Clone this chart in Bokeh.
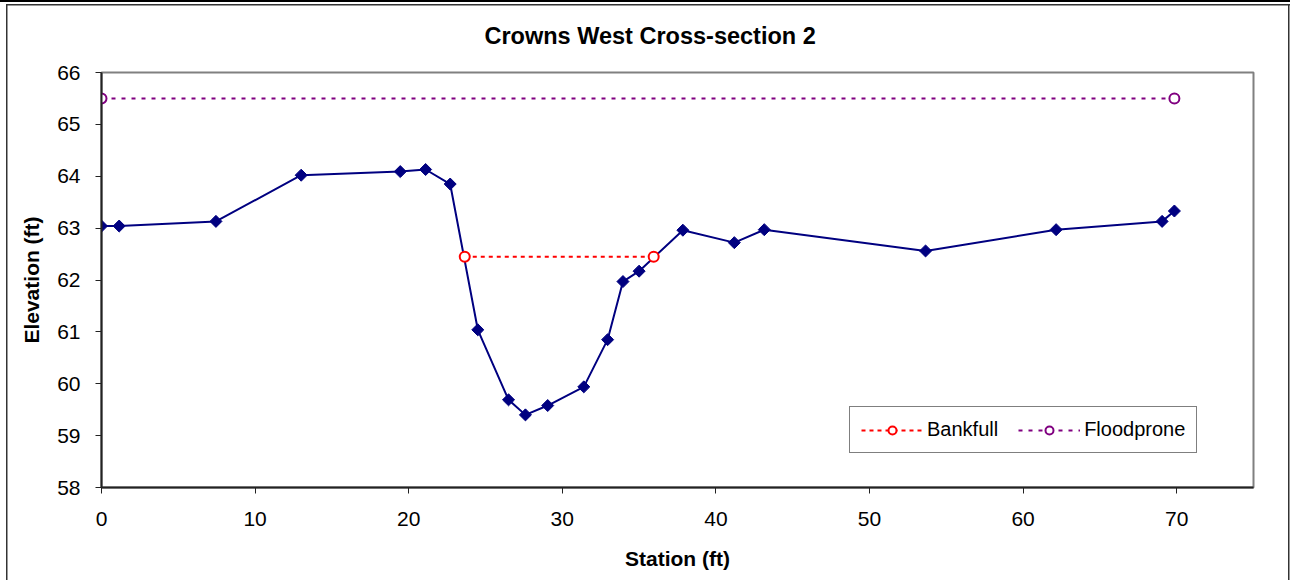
import numpy as np
from bokeh.plotting import figure
from bokeh.models import Range1d, FixedTicker, Legend, LegendItem
from bokeh.embed import file_html
from bokeh.resources import INLINE

# ---- data ----
station = [0, 1.15, 7.45, 13.0, 19.45, 21.1, 22.7, 24.5, 26.5, 27.6, 29.05, 31.4,
           32.95, 33.95, 35.0, 37.85, 41.2, 43.15, 53.65, 62.15, 69.05, 69.85]
elevation = [63.04, 63.04, 63.13, 64.02, 64.09, 64.13, 63.85, 61.04, 59.69, 59.40, 59.58, 59.94,
             60.85, 61.97, 62.17, 62.96, 62.72, 62.97, 62.56, 62.97, 63.13, 63.33]
bankfull_x = [23.65, 35.95]
bankfull_y = [62.45, 62.45]
flood_x = [0, 69.85]
flood_y = [65.5, 65.5]
x_ticks = [0, 10, 20, 30, 40, 50, 60, 70]
y_ticks = [58, 59, 60, 61, 62, 63, 64, 65, 66]

FONT = "Liberation Sans"

outer_border = {
    "background-color": "white",
    "background-image": ("linear-gradient(#000,#000), linear-gradient(#333,#333), "
                         "linear-gradient(#333,#333), linear-gradient(#333,#333)"),
    "background-size": "100% 2px, 1.5px 100%, 100% 1.5px, 1.5px 100%",
    "background-position": "0px 0px, 6px 4px, 6px 4px, 1288px 4px",
    "background-repeat": "no-repeat",
}

p = figure(width=1290, height=580, output_backend="svg", toolbar_location=None,
           x_range=Range1d(0, 75), y_range=Range1d(58, 66),
           min_border_left=101, min_border_right=37, min_border_top=71, min_border_bottom=93,
           title="Crowns West Cross-section 2", styles=outer_border)

p.title.text_font = FONT
p.title.text_font_size = "23.5px"
p.title.text_font_style = "bold"
p.title.text_color = "black"
p.title.align = "left"
p.title.vertical_align = "top"
p.title.offset = 383
p.title.standoff = 44

p.xgrid.visible = False
p.ygrid.visible = False
p.outline_line_color = "#808080"
p.outline_line_width = 2
p.background_fill_color = "white"
p.border_fill_alpha = 0

for ax in (p.xaxis[0], p.yaxis[0]):
    ax.axis_line_color = "#222222"
    ax.axis_line_width = 2
    ax.major_tick_line_color = "#222222"
    ax.major_tick_line_width = 1
    ax.major_tick_out = 6
    ax.major_tick_in = 0
    ax.minor_tick_line_color = None
    ax.major_label_text_font = FONT
    ax.major_label_text_font_size = "21px"
    ax.major_label_text_color = "black"
    ax.axis_label_text_font = FONT
    ax.axis_label_text_font_size = "21px"
    ax.axis_label_text_font_style = "bold"
    ax.axis_label_text_color = "black"

p.xaxis.ticker = FixedTicker(ticks=x_ticks)
p.yaxis.ticker = FixedTicker(ticks=y_ticks)
p.xaxis.axis_label = "Station (ft)"
p.yaxis.axis_label = "Elevation (ft)"
p.xaxis.major_label_standoff = 18
p.yaxis.major_label_standoff = 15
p.xaxis.axis_label_standoff = 18
p.yaxis.axis_label_standoff = 11

# ground profile
p.line(station, elevation, line_color="#000080", line_width=2)
p.scatter(station, elevation, marker="square", angle=np.pi / 4, size=8.5,
          fill_color="#000080", line_color="#000080")

# bankfull
bl = p.line(bankfull_x, bankfull_y, line_color="#FF0000", line_width=2, line_dash="4 4")
bm = p.scatter(bankfull_x, bankfull_y, marker="circle", size=10, fill_color="white",
               line_color="#FF0000", line_width=2)

# floodprone
fl = p.line(flood_x, flood_y, line_color="#800080", line_width=2, line_dash="4 6")
fm = p.scatter(flood_x, flood_y, marker="circle", size=10, fill_color="white",
               line_color="#800080", line_width=2)

legend = Legend(items=[LegendItem(label="Bankfull", renderers=[bl, bm]),
                       LegendItem(label="Floodprone", renderers=[fl, fm])],
                orientation="horizontal", location=(748, 34),
                label_text_font=FONT, label_text_font_size="20px", label_text_color="black",
                glyph_width=62, glyph_height=20, label_standoff=4, spacing=20,
                padding=11, margin=0,
                border_line_color="black", border_line_width=1,
                background_fill_color="white", background_fill_alpha=1.0)
p.add_layout(legend, "center")

open("out.html", "w").write(file_html(p, INLINE))
